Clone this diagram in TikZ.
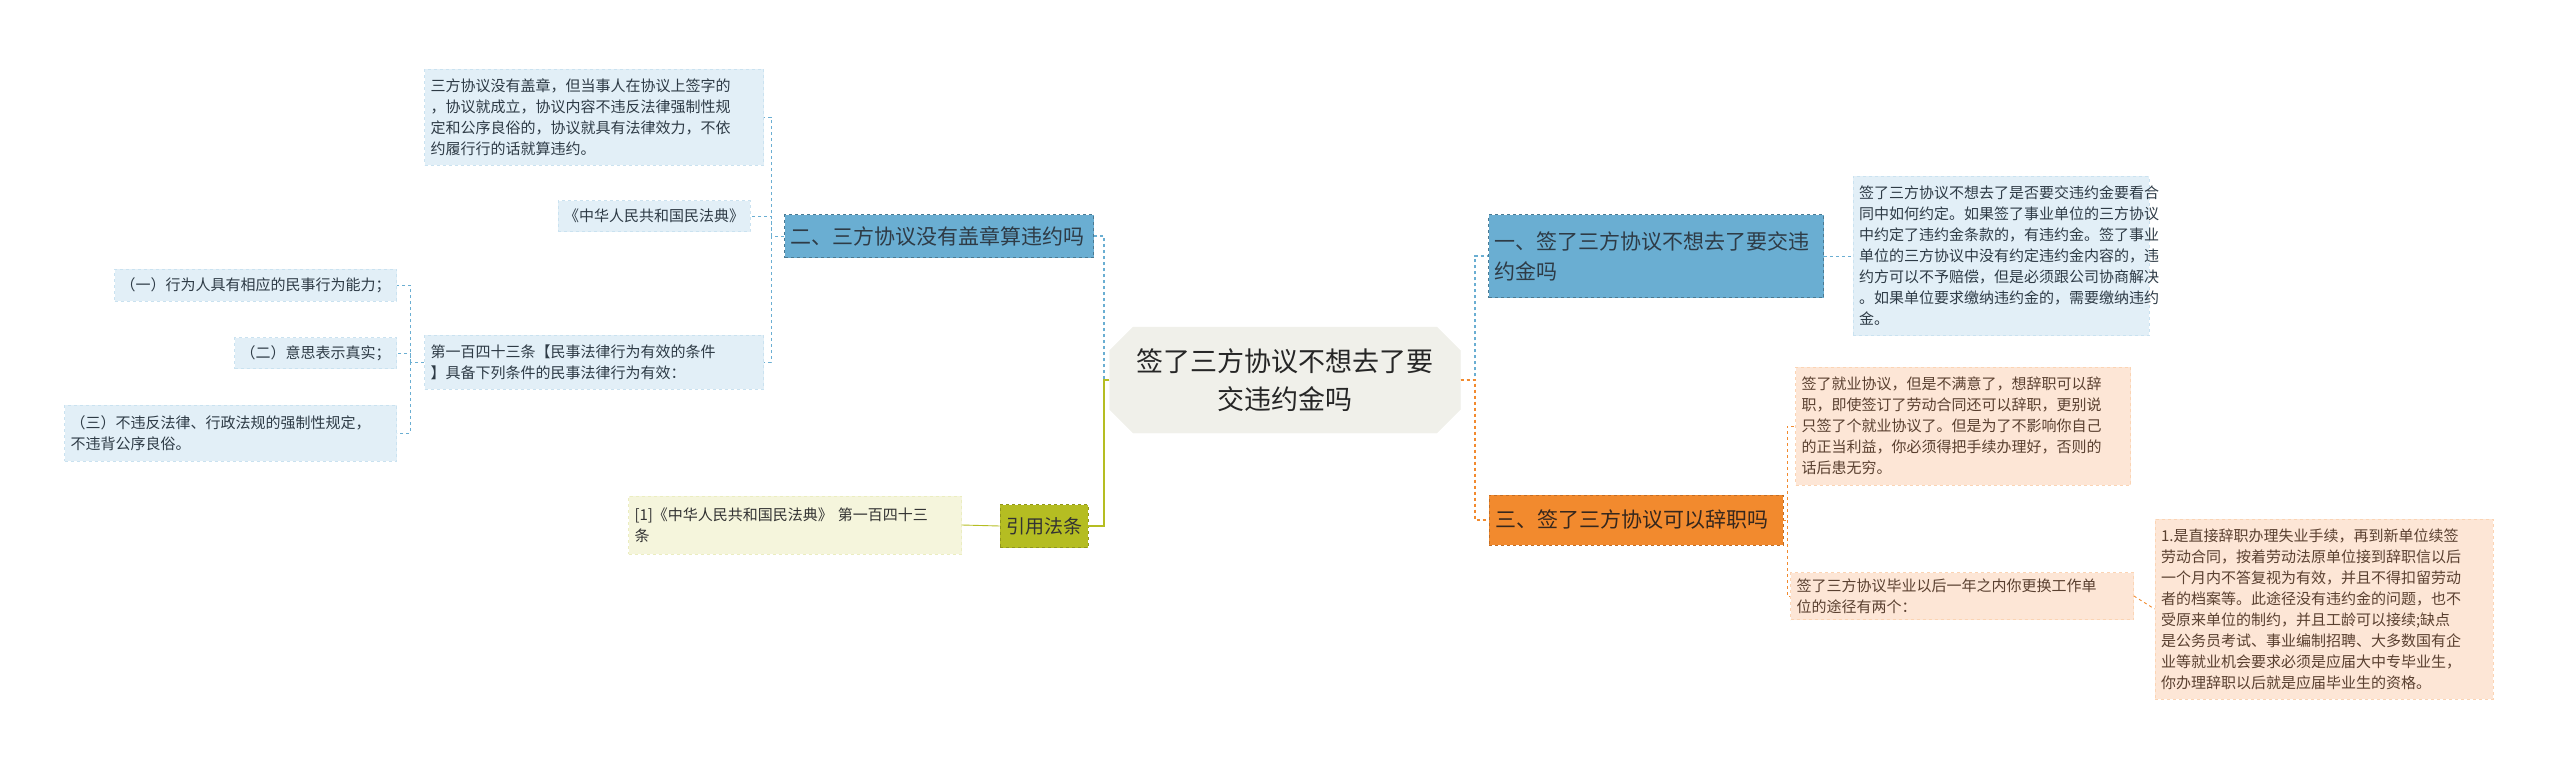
\documentclass[tikz,border=0pt]{standalone}
\usepackage{fontspec}
\setmainfont{Noto Sans CJK SC}
\usetikzlibrary{shapes.misc,calc}
\definecolor{bl}{HTML}{6AAED2}
\definecolor{blf}{HTML}{E2EFF7}
\definecolor{blt}{HTML}{2E3B46}
\definecolor{org}{HTML}{F28A2E}
\definecolor{orf}{HTML}{FDE6D6}
\definecolor{ort}{HTML}{5A4030}
\definecolor{grn}{HTML}{B5BD22}
\definecolor{grf}{HTML}{F5F5DC}
\definecolor{ctr}{HTML}{F0F0EA}
\tikzset{
 box/.style={draw,dashed,line width=0.8pt,inner xsep=6pt,inner ysep=4pt,align=left,font=\fontsize{15}{21}\selectfont},
 bleaf/.style={box,fill=blf,draw=blf!80!bl,text=blt},
 oleaf/.style={box,fill=orf,draw=orf!80!org,text=ort},
 bmain/.style={box,fill=bl,draw=bl!70!black,text=blt,font=\fontsize{21}{30}\selectfont},
 omain/.style={box,fill=org,draw=org!80!black,text=ort!60!black,font=\fontsize{21}{30}\selectfont},
 bline/.style={draw=bl,dashed,line width=1.2pt},
 oline/.style={draw=org,dashed,line width=1.2pt},
 gline/.style={draw=grn,line width=1.4pt},
}
\begin{document}
\begin{tikzpicture}[x=1pt,y=-1pt]
\useasboundingbox (0,0) rectangle (2560,765);
\node[chamfered rectangle,chamfered rectangle xsep=20pt,fill=ctr,draw=ctr,minimum width=351pt,minimum height=106pt,align=center,font=\fontsize{27}{38}\selectfont,text=black!85] (c) at (1285,380) {签了三方协议不想去了要\\交违约金吗};
% left
\node[bmain,text width=297pt,minimum height=43pt] (n2) at (939,236) {二、三方协议没有盖章算违约吗};
\node[bleaf,text width=327pt,minimum height=96pt] (t1) at (594,117) {三方协议没有盖章，但当事人在协议上签字的\\，协议就成立，协议内容不违反法律强制性规\\定和公序良俗的，协议就具有法律效力，不依\\约履行行的话就算违约。};
\node[bleaf,minimum height=31pt] (t2) at (654,216) {《中华人民共和国民法典》};
\node[bleaf,text width=327pt,minimum height=54pt] (t3) at (594,362) {第一百四十三条【民事法律行为有效的条件\\】具备下列条件的民事法律行为有效：};
\node[bleaf,minimum height=32pt,anchor=east] (s1) at (397,285) {（一）行为人具有相应的民事行为能力；};
\node[bleaf,minimum height=31pt,anchor=east] (s2) at (397,353) {（二）意思表示真实；};
\node[bleaf,text width=320pt,minimum height=56pt,anchor=east] (s3) at (397,433) {（三）不违反法律、行政法规的强制性规定，\\不违背公序良俗。};
\node[box,fill=grn,draw=grn!80!black,text=black!80,font=\fontsize{19}{26}\selectfont,minimum height=43pt] (ref) at (1044,526) {引用法条};
\node[box,fill=grf,draw=grf!85!grn,text=black!80,text width=321pt,minimum height=58pt] (r1) at (795,525) {[1]《中华人民共和国民法典》 第一百四十三\\条};
% right
\node[bmain,text width=323pt,minimum height=83pt] (n1) at (1656,256) {一、签了三方协议不想去了要交违\\约金吗};
\node[bleaf,text width=284pt,minimum height=159pt] (u1) at (2001,256) {签了三方协议不想去了是否要交违约金要看合\\同中如何约定。如果签了事业单位的三方协议\\中约定了违约金条款的，有违约金。签了事业\\单位的三方协议中没有约定违约金内容的，违\\约方可以不予赔偿，但是必须跟公司协商解决\\。如果单位要求缴纳违约金的，需要缴纳违约\\金。};
\node[omain,text width=282pt,minimum height=50pt] (n3) at (1636,520) {三、签了三方协议可以辞职吗};
\node[oleaf,text width=323pt,minimum height=118pt] (o1) at (1963,426) {签了就业协议，但是不满意了，想辞职可以辞\\职，即使签订了劳动合同还可以辞职，更别说\\只签了个就业协议了。但是为了不影响你自己\\的正当利益，你必须得把手续办理好，否则的\\话后患无穷。};
\node[oleaf,text width=331pt,minimum height=47pt] (o2) at (1962,596) {签了三方协议毕业以后一年之内你更换工作单\\位的途径有两个：};
\node[oleaf,text width=326pt,minimum height=180pt] (o3) at (2324,609) {1.是直接辞职办理失业手续，再到新单位续签\\劳动合同，按着劳动法原单位接到辞职信以后\\一个月内不答复视为有效，并且不得扣留劳动\\者的档案等。此途径没有违约金的问题，也不\\受原来单位的制约，并且工龄可以接续;缺点\\是公务员考试、事业编制招聘、大多数国有企\\业等就业机会要求必须是应届大中专毕业生，\\你办理辞职以后就是应届毕业生的资格。};
% connectors
\coordinate (lx) at (1104,380);
\coordinate (rx) at (1475,380);
\draw[bline] (c.west) -- (lx) |- (n2.east);
\draw[gline] (c.west) -- (lx) |- (ref.east);
\draw[bline] (c.east) -- (rx) |- (n1.west);
\draw[oline] (c.east) -- (rx) |- (n3.west);
\coordinate (a2) at (771,236);
\draw[bline,line width=0.9pt] (n2.west) -- (a2) |- (t1.east);
\draw[bline,line width=0.9pt] (a2) |- (t2.east);
\draw[bline,line width=0.9pt] (a2) |- (t3.east);
\coordinate (a3) at (410,362);
\draw[bline,line width=0.9pt] (t3.west) -- (a3) |- (s1.east);
\draw[bline,line width=0.9pt] (a3) |- (s2.east);
\draw[bline,line width=0.9pt] (a3) |- (s3.east);
\draw[gline,line width=0.9pt] (ref.west) -- (r1.east);
\draw[bline,line width=0.9pt] (n1.east) -- (u1.west);
\coordinate (a4) at (1787,520);
\draw[oline,line width=0.9pt] (n3.east) -- (a4) |- (o1.west);
\draw[oline,line width=0.9pt] (a4) |- (o2.west);
\draw[oline,line width=0.9pt] (o2.east) -- (o3.west);
\end{tikzpicture}
\end{document}
